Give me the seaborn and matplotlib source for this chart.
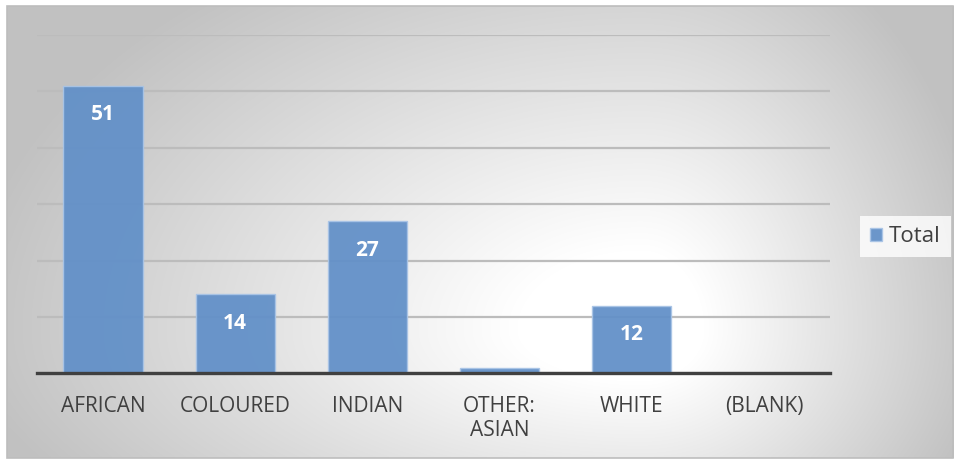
import numpy as np
import pandas as pd
import matplotlib
matplotlib.use("Agg")
import matplotlib.pyplot as plt
from matplotlib.patches import Rectangle
import seaborn as sns

# Data
categories = ["AFRICAN", "COLOURED", "INDIAN", "OTHER:\nASIAN", "WHITE", "(BLANK)"]
totals = [51, 14, 27, 1, 12, 0]
shown_labels = [True, True, True, False, True, False]
series_name = "Total"

sns.set_theme(style="white")
plt.rcParams["font.family"] = ["Open Sans", "DejaVu Sans"]

W, H = 955, 461
fig = plt.figure(figsize=(W / 100, H / 100), dpi=100)
fig.patch.set_facecolor("white")

# Chart-area background: soft radial grey-to-white fill inside a thin frame
x0, y0, x1, y1 = 7, 6, 953, 458
bg = fig.add_axes([x0 / W, 1 - y1 / H, (x1 - x0) / W, (y1 - y0) / H])
bg.set_axis_off()
xs = np.arange(x0, x1)
ys = np.arange(y0, y1)
X, Y = np.meshgrid(xs, ys)
cx, cy = 640, 330
dx = X - cx
dy = Y - cy
sx = np.where(dx < 0, 620, 320)
sy = np.where(dy < 0, 400, 260)
t = np.sqrt((dx / sx) ** 2 + (dy / sy) ** 2)
level = 255 - 62 * np.clip((t - 0.2) / 0.9, 0, 1)
img = np.dstack([level, level, level]).astype(np.uint8)
bg.imshow(img, aspect="auto", interpolation="bilinear")
fig.patches.append(Rectangle((x0 / W, 1 - y1 / H), (x1 - x0) / W, (y1 - y0) / H,
                             transform=fig.transFigure, fill=False,
                             edgecolor="#bdbdbd", linewidth=1.2, zorder=5))

# Plot area
left, right = 37 / W, 830 / W
bottom, top = 1 - 373.3 / H, 1 - 35 / H
ax = fig.add_axes([left, bottom, right - left, top - bottom])
ax.patch.set_alpha(0)

df = pd.DataFrame({"category": categories, "value": totals, "series": series_name})
sns.barplot(data=df, x="category", y="value", hue="series", ax=ax,
            palette=["#6290c8"], saturation=1, width=0.6, alpha=0.94,
            edgecolor="#a9c4e6", linewidth=1.0, legend=True)

ax.set_ylim(0, 60)
ax.set_xlim(-0.5, len(categories) - 0.5)
ax.set_yticks(np.arange(0, 61, 10))
ax.set_yticklabels([])
ax.set_axisbelow(True)
ax.yaxis.grid(True, color="#bcbcbc", linewidth=1.6)
ax.xaxis.grid(False)
ax.tick_params(axis="y", length=0)
ax.tick_params(axis="x", length=0, pad=16, labelsize=15, labelcolor="#404040")
for lab in ax.get_xticklabels():
    lab.set_linespacing(1.2)
ax.set_xlabel("")
ax.set_ylabel("")
for side in ["top", "left", "right"]:
    ax.spines[side].set_visible(False)
ax.spines["bottom"].set_color("#404040")
ax.spines["bottom"].set_linewidth(2.4)
ax.spines["bottom"].set_zorder(4)

# Value labels inside the top of each bar
bars = ax.containers[0]
for bar, v, show in zip(bars, totals, shown_labels):
    if show:
        ax.annotate(f"{v}", (bar.get_x() + bar.get_width() / 2, v),
                    xytext=(0, -29), textcoords="offset pixels",
                    ha="center", va="center", color="white",
                    fontsize=15, fontweight="bold")

# Legend on the right
leg = ax.legend(loc="center left",
                bbox_to_anchor=((860 - 37) / (830 - 37), (373.3 - 237) / (373.3 - 35)),
                frameon=True, fontsize=16, handlelength=0.55, handleheight=0.55,
                handletextpad=0.3, borderpad=0.45, borderaxespad=0)
leg.get_frame().set_facecolor((1, 1, 1, 0.35))
leg.get_frame().set_edgecolor("none")
leg.get_frame().set_boxstyle("square", pad=0)
for txt in leg.get_texts():
    txt.set_color("#404040")

fig.savefig("out.png", dpi=100)
